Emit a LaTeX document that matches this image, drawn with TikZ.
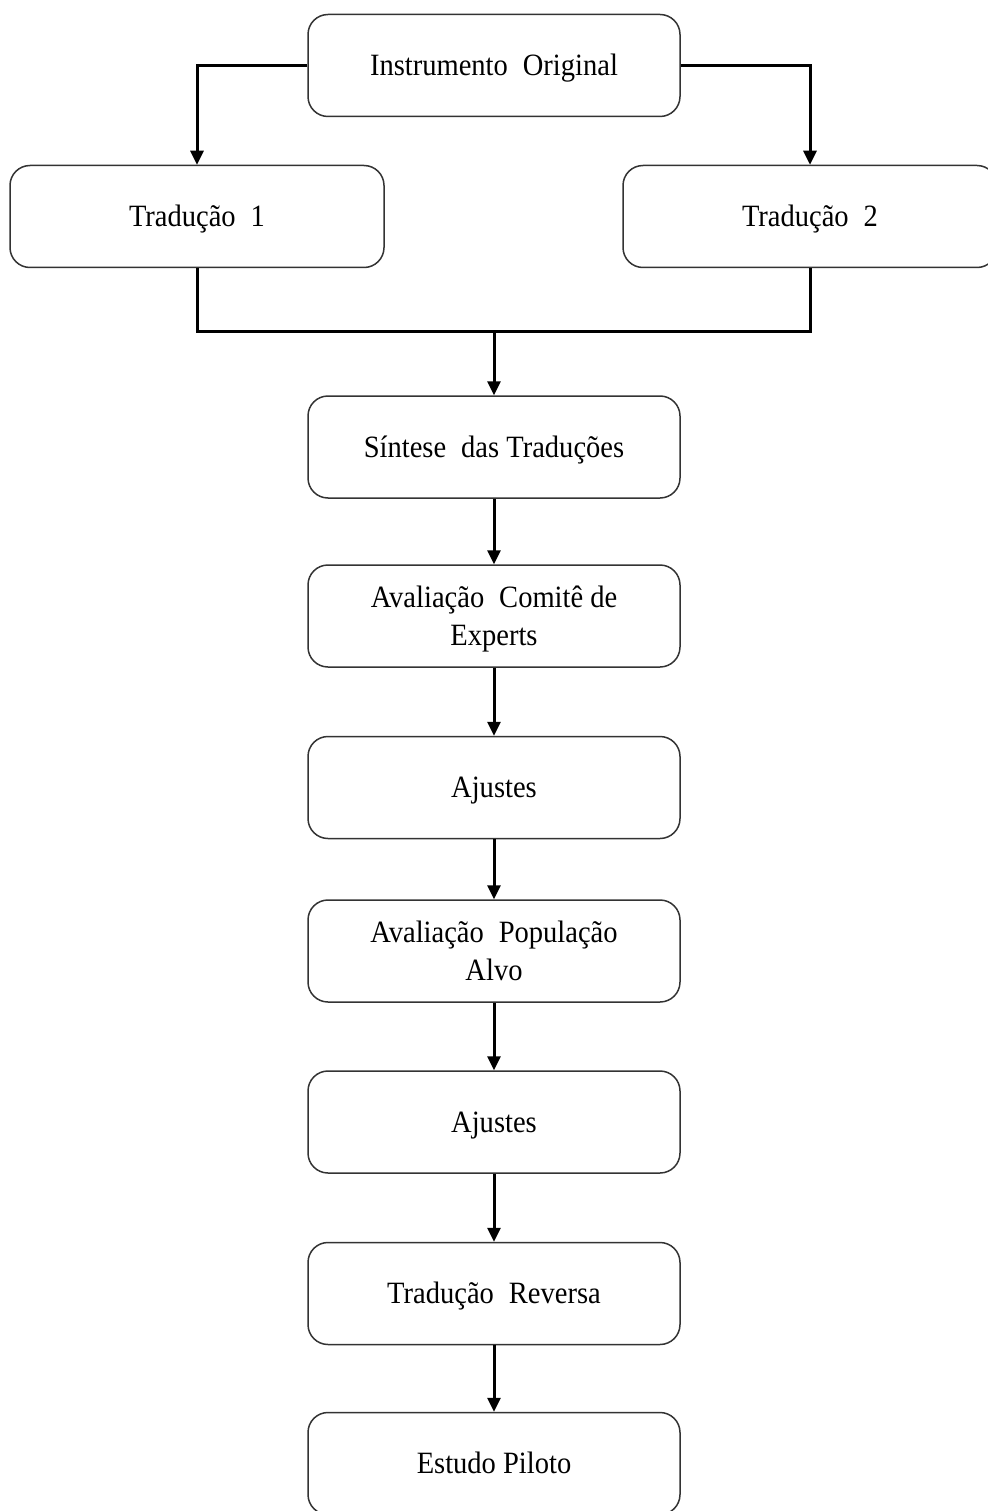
\documentclass[tikz,border=0pt]{standalone}
\usepackage{fontspec}
\setmainfont[FakeStretch=0.92]{Liberation Serif}
\usetikzlibrary{arrows.meta}
\newcommand\Ts{\rule{0pt}{28pt}}
\newcommand\Bs{\rule[-8pt]{0pt}{8pt}}
\newcommand\gap{\hspace{15pt}}
\begin{document}
\begin{tikzpicture}[x=1pt,y=-1pt,
  stepbox/.style={draw=black!80, line width=1.5pt, rounded corners=20pt, fill=white,
    minimum width=372pt, minimum height=102pt, align=center, inner sep=0pt,
    font=\fontsize{31}{38}\selectfont},
  conn/.style={draw=black, line width=3pt, -{Triangle[length=14pt,width=13pt]}},
  plain/.style={draw=black, line width=3pt}]
\useasboundingbox (0,0) rectangle (987,1511);
\node[stepbox] (io) at (494,65.5) {\Ts Instrumento\gap Original\Bs};
\node[stepbox, minimum width=374pt] (t1) at (197,216.5) {\Ts Tradução\gap 1\Bs};
\node[stepbox, minimum width=374pt] (t2) at (810,216.5) {\Ts Tradução\gap 2\Bs};
\node[stepbox] (s) at (494,447) {\Ts Síntese\gap das Traduções\Bs};
\node[stepbox] (c) at (494,616) {\Ts Avaliação\gap Comitê de\\Experts\Bs};
\node[stepbox] (a1) at (494,787.5) {\Ts Ajustes\Bs};
\node[stepbox] (p) at (494,951) {\Ts Avaliação\gap População\\Alvo\Bs};
\node[stepbox] (a2) at (494,1122) {\Ts Ajustes\Bs};
\node[stepbox] (r) at (494,1293.5) {\Ts Tradução\gap Reversa\Bs};
\node[stepbox] (e) at (494,1463.5) {\Ts Estudo Piloto\Bs};
\coordinate (j) at (494,331);
\draw[conn] (io.west) -| (t1.north);
\draw[conn] (io.east) -| (t2.north);
\draw[plain] (t1.south) -- (t1.south |- j) -- (t2.south |- j) -- (t2.south);
\draw[conn] (j) -- (s.north);
\draw[conn] (s) -- (c);
\draw[conn] (c) -- (a1);
\draw[conn] (a1) -- (p);
\draw[conn] (p) -- (a2);
\draw[conn] (a2) -- (r);
\draw[conn] (r) -- (e);
\end{tikzpicture}
\end{document}
